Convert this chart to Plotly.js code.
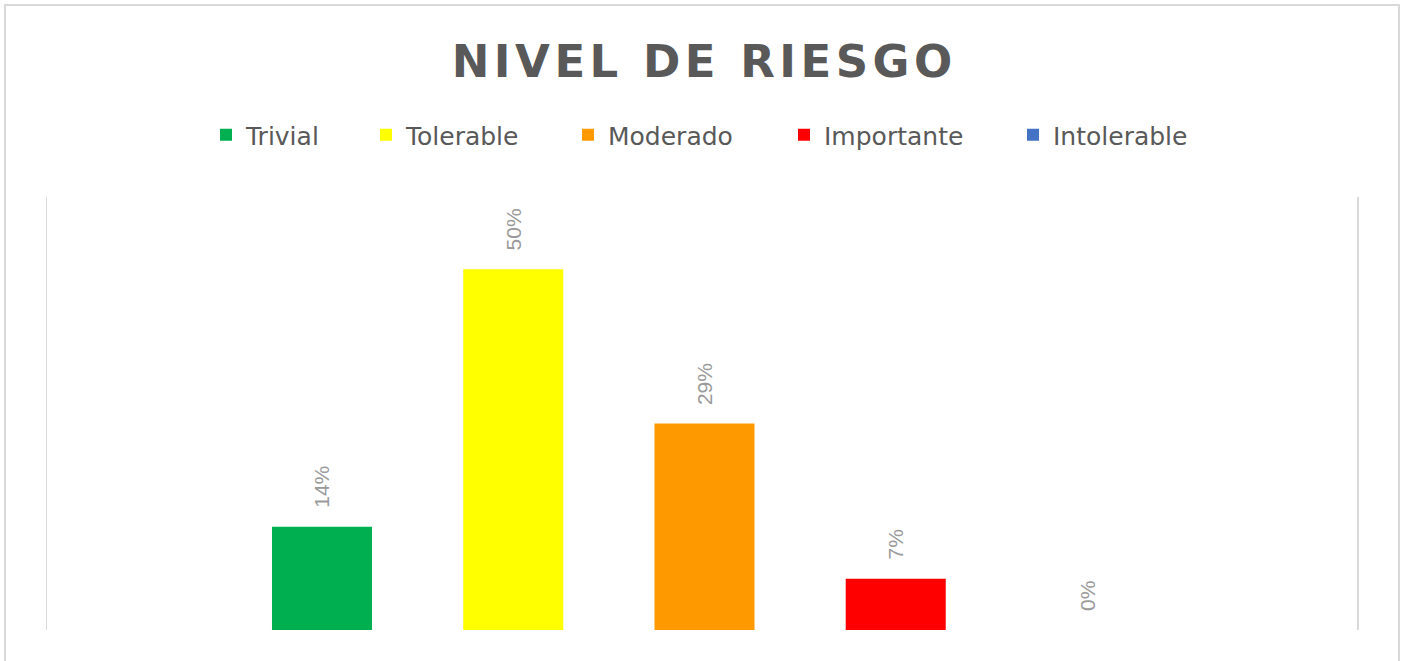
<!DOCTYPE html>
<html>
<head>
<meta charset="utf-8">
<script src="https://cdn.plot.ly/plotly-3.0.1.min.js"></script>
<style>
  html, body { margin: 0; padding: 0; background: #ffffff; }
  #wrap { position: relative; width: 1401px; height: 661px; overflow: hidden; }
  #frame { position: absolute; left: 4px; top: 4px; width: 1396px; height: 700px;
           border: 2px solid #d9d9d9; box-sizing: border-box; pointer-events: none; }
  #chart { position: absolute; left: 0; top: 0; width: 1401px; height: 661px; }
</style>
</head>
<body>
<div id="wrap">
  <div id="chart"></div>
  <div id="frame"></div>
</div>
<script>
const titleText = "NIVEL DE RIESGO";
const categories = ["Trivial", "Tolerable", "Moderado", "Importante", "Intolerable"];
const values = [0.143, 0.5, 0.286, 0.071, 0];
const colors = ["#00b050", "#ffff00", "#ff9900", "#ff0000", "#4472c4"];

// pixel x where each legend swatch starts (layout only)
const legendX = [220, 380, 582, 798, 1027];

const spaced = titleText.split("").join("\u200A");

const traces = categories.map((c, i) => ({
  type: "bar",
  name: c,
  x: [c],
  y: [values[i]],
  width: 0.523,
  marker: { color: colors[i] },
  legend: i === 0 ? "legend" : "legend" + (i + 1),
  hoverinfo: "none"
}));

const annotations = categories.map((c, i) => ({
  x: c,
  y: values[i],
  xref: "x",
  yref: "y",
  text: Math.round(values[i] * 100) + "%",
  textangle: -90,
  showarrow: false,
  xanchor: "center",
  yanchor: "bottom",
  yshift: 17,
  font: { family: "Liberation Sans Narrow, Arial Narrow, Liberation Sans, sans-serif", size: 21, color: "#9a9a9a" }
}));

const layout = {
  width: 1401,
  height: 661,
  margin: { l: 47, r: 44, t: 197, b: 31 },
  paper_bgcolor: "rgba(0,0,0,0)",
  plot_bgcolor: "rgba(0,0,0,0)",
  barmode: "overlay",
  showlegend: true,
  title: {
    text: "<b>" + spaced + "</b>",
    x: 0.5, xanchor: "center", xref: "paper",
    y: 1 - 61 / 661, yanchor: "middle", yref: "container",
    font: { family: "DejaVu Sans, sans-serif", size: 45, color: "#595959" }
  },
  xaxis: {
    type: "category",
    categoryorder: "array",
    categoryarray: categories,
    range: [-1.438, 5.412],
    showticklabels: false,
    showgrid: false,
    zeroline: false,
    showline: false,
    ticks: ""
  },
  yaxis: {
    range: [0, 0.6],
    showticklabels: false,
    showgrid: false,
    zeroline: false,
    showline: true,
    mirror: true,
    linecolor: "#d9d9d9",
    linewidth: 1.5,
    ticks: ""
  },
  annotations: annotations
};

legendX.forEach((px, i) => {
  const key = i === 0 ? "legend" : "legend" + (i + 1);
  layout[key] = {
    orientation: "h",
    x: (px - 14 - 47) / 1310, xanchor: "left",
    y: (630 - 135) / 433, yanchor: "middle",
    font: { family: "DejaVu Sans, sans-serif", size: 25, color: "#595959" },
    itemclick: false, itemdoubleclick: false,
    bgcolor: "rgba(0,0,0,0)"
  };
});

Plotly.newPlot("chart", traces, layout, { displayModeBar: false, staticPlot: true });
</script>
</body>
</html>
